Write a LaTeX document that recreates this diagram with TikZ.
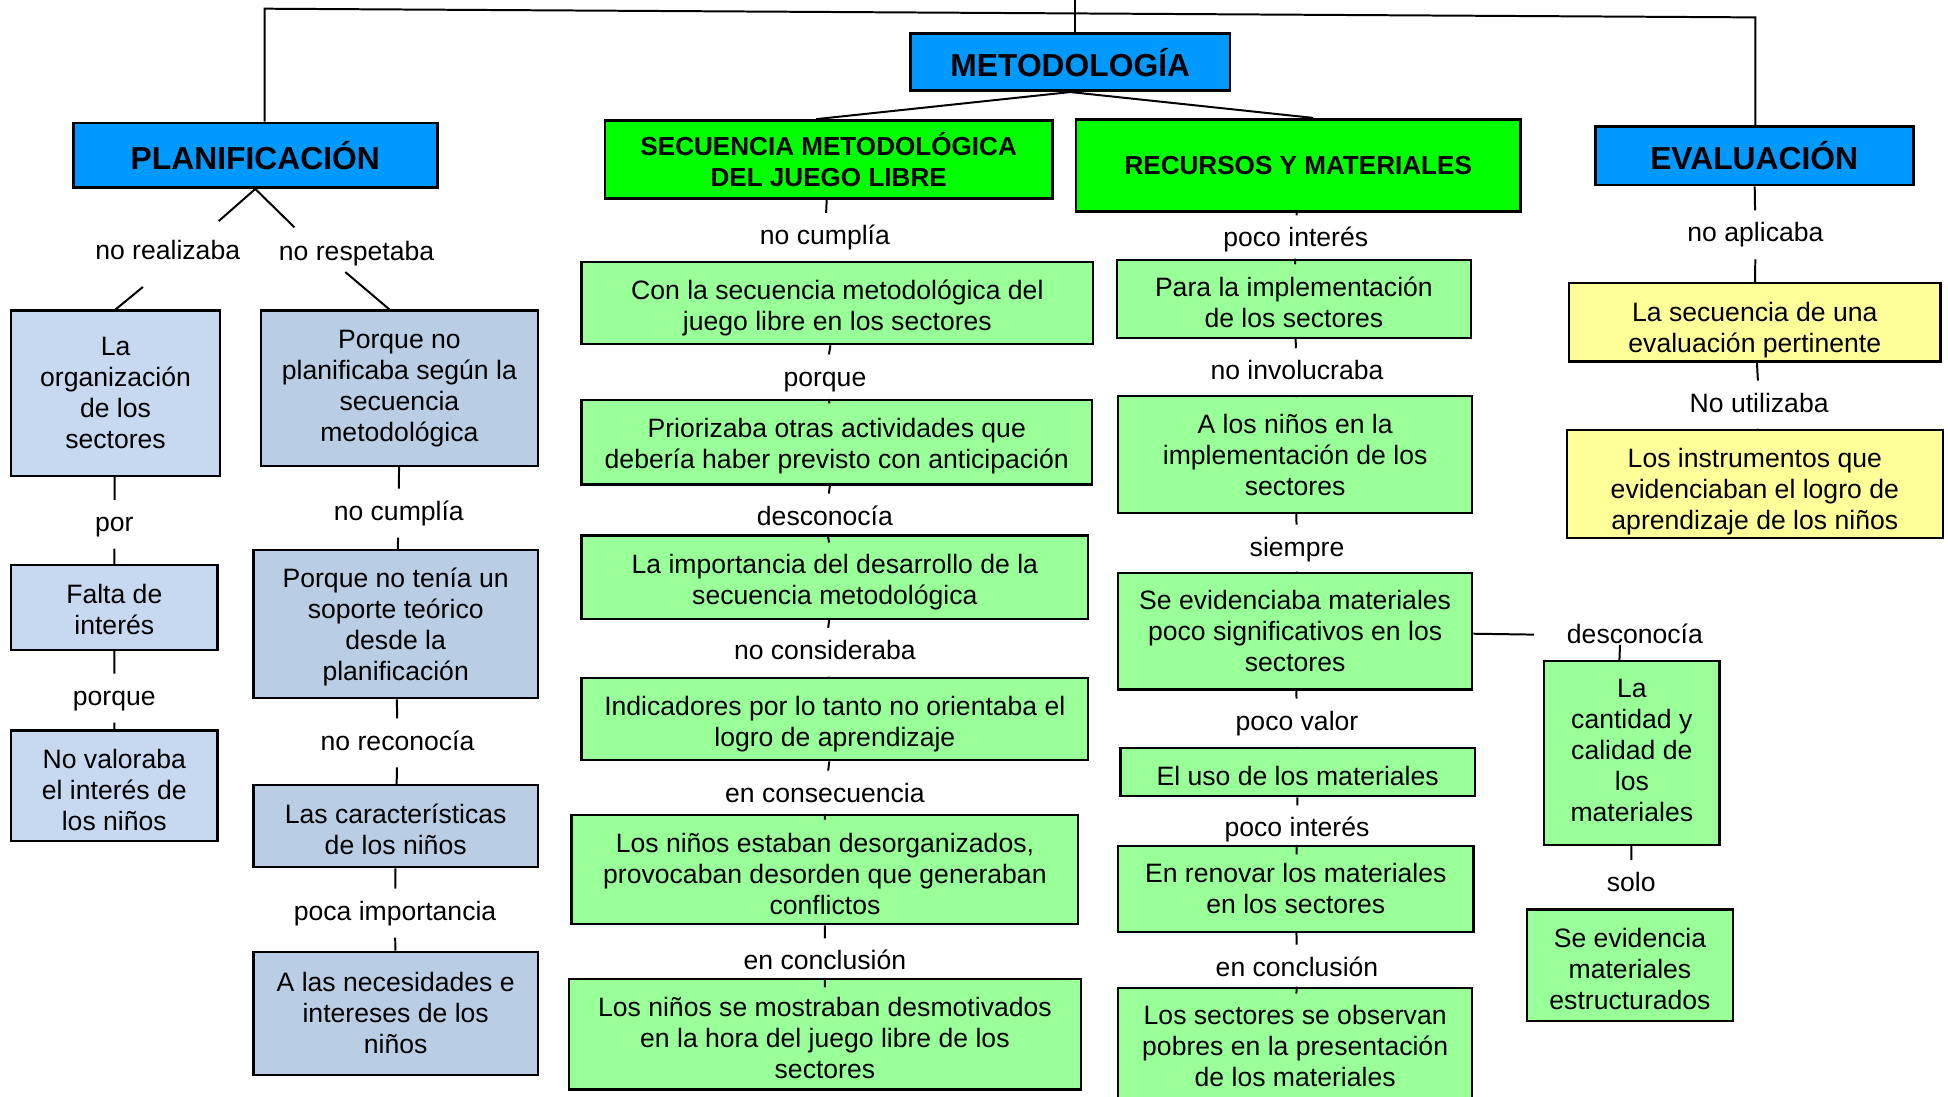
\documentclass[tikz,border=0pt]{standalone}
\usepackage{fontspec}
\setmainfont{Liberation Sans}
\usepackage{tikz}
\definecolor{azultit}{HTML}{0099FF}
\definecolor{verdetit}{HTML}{00FF00}
\definecolor{verdecaja}{HTML}{99FF99}
\definecolor{celeste}{HTML}{C6D9F1}
\definecolor{azulgris}{HTML}{B9CDE5}
\definecolor{amarillo}{HTML}{FFFF99}
\newcommand{\bj}[1]{\rule{0pt}{#1}}
\newcommand{\subir}[1]{\rule[-#1]{0pt}{0pt}}

\begin{document}
\begin{tikzpicture}[x=0.5pt,y=-0.5pt,
  caja/.style={draw, line width=0.9pt, align=center, inner sep=1pt,
    font=\fontsize{10.7}{12.5}\selectfont},
  titulo/.style={caja, fill=azultit, line width=1.1pt,
    font=\fontsize{12.8}{14}\selectfont\bfseries},
  subtitulo/.style={caja, fill=verdetit, line width=1.1pt,
    font=\fontsize{10.5}{12.5}\selectfont\bfseries},
  enlace/.style={inner xsep=2pt, inner ysep=4.5pt, text height=8pt, text depth=2.3pt,
    yshift=-1pt, font=\fontsize{10.7}{12.5}\selectfont},
  linea/.style={line width=0.8pt}]
\useasboundingbox (0,0) rectangle (1568,883);

\node[titulo, minimum width=128.5pt, minimum height=23pt] (metod) at (861.5,50) {METODOLOGÍA};
\node[titulo, minimum width=146.5pt, minimum height=26pt] (plan) at (205.5,125) {PLANIFICACIÓN};
\node[subtitulo, minimum width=180pt, minimum height=31.5pt] (secu) at (667,128.5) {SECUENCIA METODOLÓGICA\\DEL JUEGO LIBRE};
\node[subtitulo, minimum width=179pt, minimum height=37pt] (recur) at (1045,133) {RECURSOS Y MATERIALES};
\node[titulo, minimum width=128pt, minimum height=23.5pt] (evalu) at (1412,125.5) {EVALUACIÓN};

\coordinate (tl) at (213,7);
\coordinate (tr) at (1413,14);
\coordinate (tm) at (865,0);
\draw[linea] (tm) -- (metod.north -| tm);
\draw[linea] (plan.north -| tl) -- (tl) -- (tr) -- (evalu.north -| tr);
\draw[linea] (metod.south) -- ([xshift=-5pt]secu.north);
\draw[linea] (metod.south) -- ([xshift=6pt]recur.north);

\node[enlace] (lreal) at (135,201) {no realizaba};
\node[enlace] (lresp) at (287,202) {no respetaba};
\coordinate (preal) at (176,178);
\coordinate (presp) at (237,183);
\coordinate (qreal) at (115,231);
\coordinate (qresp) at (278,219);
\node[caja, fill=celeste, minimum width=84pt, minimum height=66.5pt] (org) at (93,316.5) {La\\organización\\de los\\sectores};
\node[enlace] (lpor) at (92,420) {por};
\node[caja, fill=celeste, minimum width=83pt, minimum height=34pt] (falta) at (92,489) {\bj{9.5pt}Falta de\\interés};
\node[enlace] (lporq) at (92,560) {porque};
\node[caja, fill=celeste, minimum width=83pt, minimum height=44.5pt] (valora) at (92,632.5) {\bj{10.9pt}No valoraba\\el interés de\\los niños};
\draw[linea] (plan.south) -- (preal);
\draw[linea] (plan.south) -- (presp);
\draw[linea] (qreal) -- (org.north);
\draw[linea] (org) -- (lpor) -- (falta) -- (lporq) -- (valora);

\node[caja, fill=azulgris, minimum width=111.5pt, minimum height=62.5pt] (porq1) at (321.5,312.5) {Porque no\\planificaba según la\\secuencia\\metodológica};
\node[enlace] (lcump) at (321,411) {no cumplía};
\node[caja, fill=azulgris, minimum width=114.5pt, minimum height=59.5pt] (porq2) at (318.5,502.5) {\bj{9.9pt}Porque no tenía un\\soporte teórico\\desde la\\planificación};
\node[enlace] (lreco) at (320,596) {no reconocía};
\node[caja, fill=azulgris, minimum width=114.5pt, minimum height=33pt] (carac) at (318.5,665) {\bj{10.4pt}Las características\\de los niños};
\node[enlace] (limpo) at (318,733) {poca importancia};
\node[caja, fill=azulgris, minimum width=114.5pt, minimum height=49.5pt] (neces) at (318.5,815.5) {A las necesidades e\\intereses de los\\niños};
\draw[linea] (qresp) -- ([xshift=-4pt]porq1.north);
\draw[linea] (porq1) -- (lcump) -- (porq2) -- (lreco) -- (carac) -- (limpo) -- (neces);

\node[enlace] (ls1) at (664,189) {no cumplía};
\node[caja, fill=verdecaja, minimum width=206pt, minimum height=33pt] (s1) at (674,244) {\bj{11.4pt}Con la secuencia metodológica del\\juego libre en los sectores};
\node[enlace] (ls2) at (664,303) {porque};
\node[caja, fill=verdecaja, minimum width=205.5pt, minimum height=34pt] (s2) at (673.5,356) {\bj{11.1pt}Priorizaba otras actividades que\\debería haber previsto con anticipación};
\node[enlace] (ls3) at (664,415) {desconocía};
\node[caja, fill=verdecaja, minimum width=204pt, minimum height=33.5pt] (s3) at (672,464.5) {\bj{11.7pt}La importancia del desarrollo de la\\secuencia metodológica};
\node[enlace] (ls4) at (664,523) {no consideraba};
\node[caja, fill=verdecaja, minimum width=204pt, minimum height=33pt] (s4) at (672,579) {\bj{11.7pt}Indicadores por lo tanto no orientaba el\\logro de aprendizaje};
\node[enlace] (ls5) at (664,638) {en consecuencia};
\node[caja, fill=verdecaja, minimum width=204pt, minimum height=44pt] (s5) at (664,700) {\bj{11.5pt}Los niños estaban desorganizados,\\provocaban desorden que generaban\\conflictos};
\node[enlace] (ls6) at (664,773) {en conclusión};
\node[caja, fill=verdecaja, minimum width=206pt, minimum height=44.5pt] (s6) at (664,832.5) {\bj{10.9pt}Los niños se mostraban desmotivados\\en la hora del juego libre de los\\sectores};
\draw[linea] (secu) -- (ls1) -- (s1) -- (ls2) -- (s2) -- (ls3) -- (s3) -- (ls4) -- (s4) -- (ls5) -- (s5) -- (ls6) -- (s6);

\node[enlace] (lr1) at (1043,191) {poco interés};
\node[caja, fill=verdecaja, minimum width=142.5pt, minimum height=31.5pt] (r1) at (1041.5,240.5) {\bj{10.9pt}Para la implementación\\de los sectores};
\node[enlace] (lr2) at (1044,298) {no involucraba};
\node[caja, fill=verdecaja, minimum width=142.5pt, minimum height=47pt] (r2) at (1042.5,366) {A los niños en la\\implementación de los\\sectores};
\node[enlace] (lr3) at (1044,440) {siempre};
\node[caja, fill=verdecaja, minimum width=142.5pt, minimum height=47pt] (r3) at (1042.5,508) {Se evidenciaba materiales\\poco significativos en los\\sectores};
\node[enlace] (lr4) at (1044,580) {poco valor};
\node[caja, fill=verdecaja, minimum width=142.5pt, minimum height=19.5pt] (r4) at (1044.5,621.5) {\bj{10.9pt}El uso de los materiales};
\node[enlace] (lr5) at (1044,666) {poco interés};
\node[caja, fill=verdecaja, minimum width=143pt, minimum height=34.5pt] (r5) at (1043,715.5) {En renovar los materiales\\en los sectores};
\node[enlace] (lr6) at (1044,778) {en conclusión};
\node[caja, fill=verdecaja, minimum width=142.5pt, minimum height=49pt] (r6) at (1042.5,844) {Los sectores se observan\\pobres en la presentación\\de los materiales\subir{2.5pt}};
\draw[linea] (recur) -- (lr1) -- (r1) -- (lr2) -- (r2) -- (lr3) -- (r3) -- (lr4) -- (r4) -- (lr5) -- (r5) -- (lr6) -- (r6);

\node[enlace, inner xsep=13pt] (ldesc) at (1316,510) {desconocía};
\node[caja, fill=verdecaja, minimum width=70.5pt, minimum height=74pt] (cant) at (1313.5,606) {La\\cantidad y\\calidad de\\los\\materiales\subir{2pt}};
\node[enlace] (lsolo) at (1313,710) {solo};
\node[caja, fill=verdecaja, minimum width=83pt, minimum height=45pt] (estr) at (1312,777) {\bj{10.9pt}Se evidencia\\materiales\\estructurados};
\draw[linea] (r3) -- (ldesc);
\draw[linea] ([xshift=-6pt,yshift=-3.5pt]ldesc.center) -- ([xshift=-5pt]cant.north);
\draw[linea] (cant) -- (lsolo) -- (estr);

\node[enlace] (le1) at (1413,187) {no aplicaba};
\node[caja, fill=amarillo, minimum width=149.5pt, minimum height=31.5pt] (e1) at (1412.5,259.5) {\bj{13.9pt}La secuencia de una\\evaluación pertinente};
\node[enlace] (le2) at (1416,324) {No utilizaba};
\node[caja, fill=amarillo, minimum width=151.5pt, minimum height=43.5pt] (e2) at (1412.5,389.5) {\bj{13.9pt}Los instrumentos que\\evidenciaban el logro de\\aprendizaje de los niños};
\draw[linea] (evalu) -- (le1) -- (e1) -- (le2) -- (e2);
\end{tikzpicture}
\end{document}
